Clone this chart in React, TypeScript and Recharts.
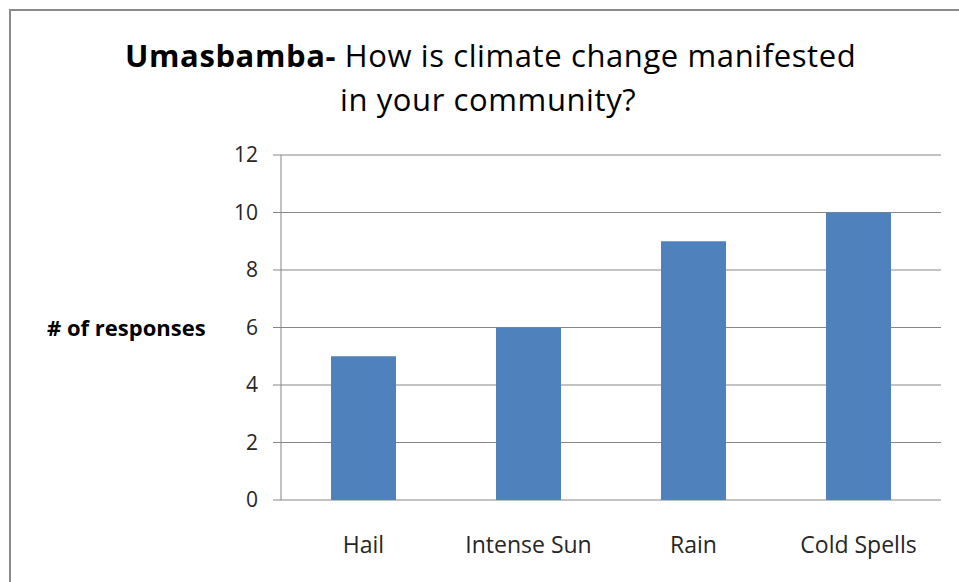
import { BarChart, Bar, XAxis, YAxis, CartesianGrid } from "recharts";

const categories = ["Hail", "Intense Sun", "Rain", "Cold Spells"];
const responses = [5, 6, 9, 10];
const yTicks = [0, 2, 4, 6, 8, 10, 12];
const boundaryTicks = [0, 1, 2, 3, 4];

const rows = categories.map((name, i) => ({ name, responses: responses[i], pos: i + 0.5 }));

const FONT = "'Open Sans', Lato, sans-serif";
const GRAY = "#868686";
const Y_TICK = { fill: "#262626", fontSize: 21, fontFamily: FONT };
const X_TICK = { fill: "#262626", fontSize: 23, fontFamily: FONT };

export default function App() {
  return (
    <div style={{ position: "absolute", left: 0, top: 0, width: 959, height: 582, background: "#fff", overflow: "hidden", fontFamily: FONT }}>
      <div style={{ position: "absolute", left: 9, top: 9, width: 1000, height: 700, border: "2px solid #8a8a8a" }} />
      <div style={{ position: "absolute", left: 125, top: 33, fontSize: 31, letterSpacing: 0.6, color: "#000", lineHeight: "44px", whiteSpace: "nowrap" }}>
        <b>Umasbamba-</b> How is climate change manifested
      </div>
      <div style={{ position: "absolute", left: 340, top: 77, fontSize: 31, letterSpacing: 0.6, color: "#000", lineHeight: "44px", whiteSpace: "nowrap" }}>
        in your community?
      </div>
      <div style={{ position: "absolute", left: 47, top: 312, fontSize: 22, fontWeight: 700, color: "#000", whiteSpace: "nowrap" }}>
        # of responses
      </div>
      <div style={{ position: "absolute", left: 0, top: 0 }}>
        <BarChart width={959} height={582} data={rows} margin={{ top: 155, right: 18, bottom: 0, left: 0 }} barSize={65}>
          <CartesianGrid horizontal vertical={false} stroke={GRAY} strokeWidth={1} />
          {/* tick marks sit on the category boundaries, not under the bars */}
          <XAxis xAxisId="edges" type="number" dataKey="pos" domain={[0, 4]} ticks={boundaryTicks} tick={false} tickSize={8} stroke={GRAY} height={0} />
          <XAxis xAxisId="cat" dataKey="name" axisLine={false} tickLine={false} tickSize={0} tickMargin={37} tick={X_TICK} height={82} interval={0} />
          <YAxis width={281} domain={[0, 12]} ticks={yTicks} tickSize={8} tickMargin={15} stroke={GRAY} tick={Y_TICK} interval={0} />
          <Bar xAxisId="cat" dataKey="responses" fill="#4f81bd" isAnimationActive={false} />
        </BarChart>
      </div>
    </div>
  );
}
